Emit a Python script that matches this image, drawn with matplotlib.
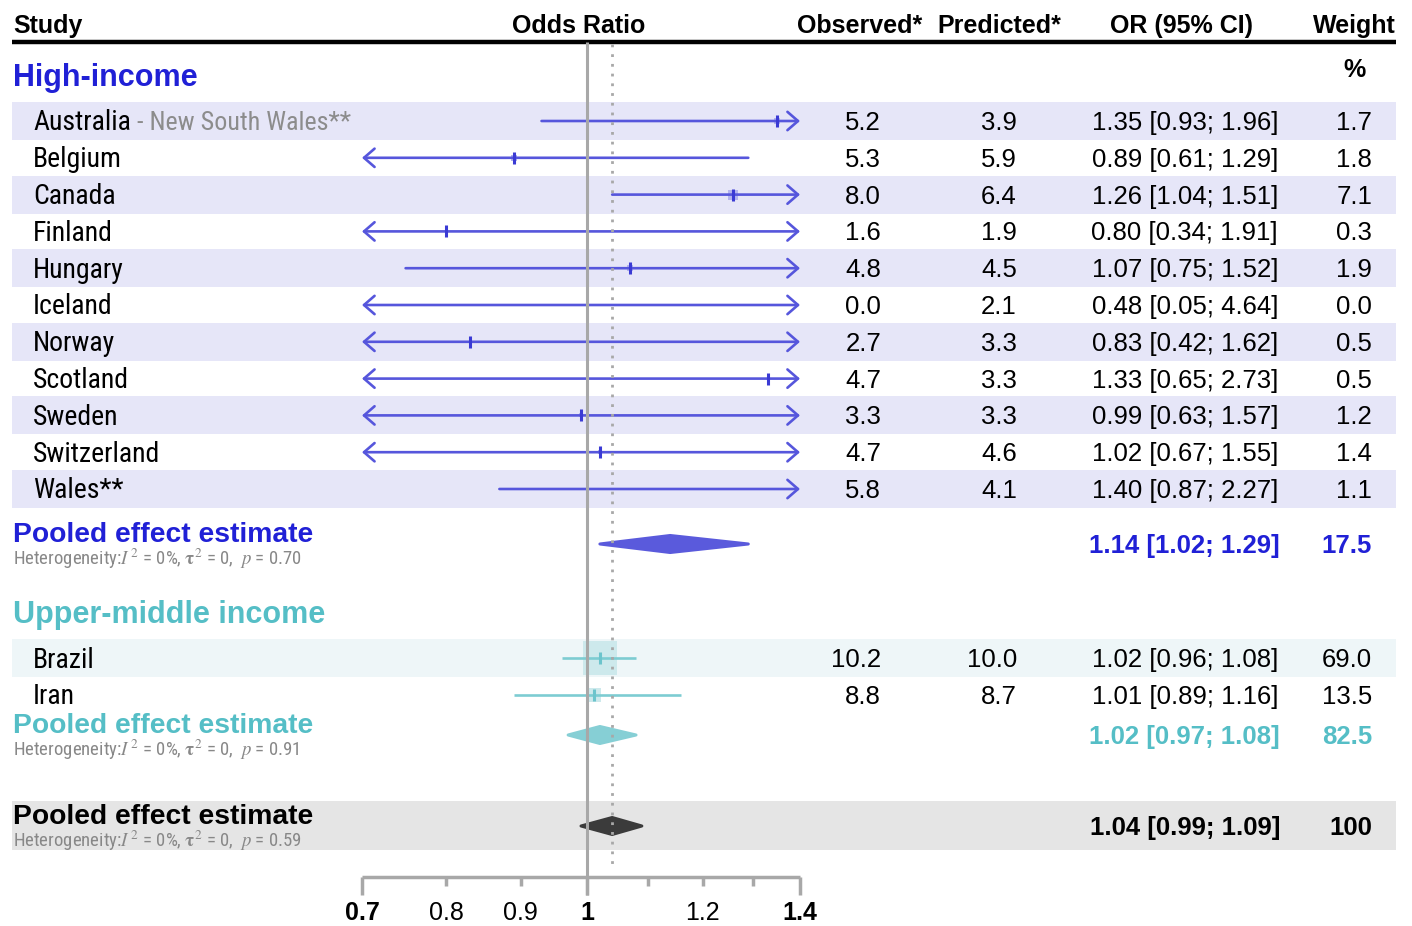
import numpy as np
import matplotlib
matplotlib.use("Agg")
import matplotlib.pyplot as plt
from matplotlib import transforms, font_manager
from matplotlib.patches import Rectangle, Polygon

# ---- data ----
hi_study = ["Australia", "Belgium", "Canada", "Finland", "Hungary", "Iceland",
            "Norway", "Scotland", "Sweden", "Switzerland", "Wales**"]
hi_obs = [5.2, 5.3, 8.0, 1.6, 4.8, 0.0, 2.7, 4.7, 3.3, 4.7, 5.8]
hi_pred = [3.9, 5.9, 6.4, 1.9, 4.5, 2.1, 3.3, 3.3, 3.3, 4.6, 4.1]
hi_or = [1.35, 0.89, 1.26, 0.80, 1.07, 0.48, 0.83, 1.33, 0.99, 1.02, 1.40]
hi_lo = [0.93, 0.61, 1.04, 0.34, 0.75, 0.05, 0.42, 0.65, 0.63, 0.67, 0.87]
hi_hi = [1.96, 1.29, 1.51, 1.91, 1.52, 4.64, 1.62, 2.73, 1.57, 1.55, 2.27]
hi_w = [1.7, 1.8, 7.1, 0.3, 1.9, 0.0, 0.5, 0.5, 1.2, 1.4, 1.1]
hi_pool = [1.14, 1.02, 1.29]
hi_pool_w = 17.5
hi_het = ["0%", "0", "0.70"]

um_study = ["Brazil", "Iran"]
um_obs = [10.2, 8.8]
um_pred = [10.0, 8.7]
um_or = [1.02, 1.01]
um_lo = [0.96, 0.89]
um_hi = [1.08, 1.16]
um_w = [69.0, 13.5]
um_pool = [1.02, 0.97, 1.08]
um_pool_w = 82.5
um_het = ["0%", "0", "0.91"]

all_pool = [1.04, 0.99, 1.09]
all_pool_w = 100
all_het = ["0%", "0", "0.59"]

tick_vals = [0.7, 0.8, 0.9, 1.0, 1.1, 1.2, 1.3, 1.4]
tick_labels = ["0.7", "0.8", "0.9", "1", "", "1.2", "", "1.4"]
tick_bold = [True, False, False, True, False, False, False, True]

XMIN, XMAX = 0.7, 1.4
W, H = 1412, 926

BLUE_T = "#2020D6"
BLUE_L = "#5656DC"
BLUE_K = "#3A3AD4"
BLUE_S = "#B4B4EE"
BLUE_D = "#5A5ADC"
BLUE_BAND = "#E6E6F8"
TEAL_T = "#55BEC6"
TEAL_L = "#7DCCD2"
TEAL_K = "#6CC4CC"
TEAL_S = "#CDE9EC"
TEAL_D = "#86CFD5"
TEAL_BAND = "#EEF6F8"

# pick a narrow face for the study names (like Arial Narrow)
_installed = {f.name for f in font_manager.fontManager.ttflist}
_narrow = [n for n in ["Liberation Sans Narrow", "Arial Narrow", "Roboto Condensed",
                       "Archivo Narrow", "PT Sans Narrow", "IBM Plex Sans Condensed"]
           if n in _installed]
NARROW = (_narrow[:1] or ["Liberation Sans"]) + ["DejaVu Sans"]


def fx(p):
    return p / W


def fmt_ci(e, lo, hi):
    return f"{e:.2f} [{lo:.2f}; {hi:.2f}]"


def draw_study(ax, y, est, lo, hi, w, line_c, tick_c, sq_c):
    left = max(lo, XMIN)
    right = min(hi, XMAX)
    if lo < XMIN or hi > XMAX:
        style = ("<" if lo < XMIN else "") + "-" + (">" if hi > XMAX else "")
        ax.annotate("", xy=(right, y), xytext=(left, y),
                    arrowprops=dict(arrowstyle=style + ",head_length=0.38,head_width=0.33",
                                    color=line_c, lw=1.9, shrinkA=0, shrinkB=0,
                                    mutation_scale=20), zorder=3)
    else:
        ax.plot([lo, hi], [y, y], color=line_c, lw=1.9, solid_capstyle="butt", zorder=3)
    if XMIN <= est < XMAX:
        if w > 0:
            side = 4.0 * np.sqrt(w) * 0.72
            ax.scatter([est], [y], marker="s", s=side ** 2, color=sq_c, lw=0, zorder=2)
        ax.plot([est], [y], marker="|", ms=8.5, mew=2.2, color=tick_c, zorder=4)


def draw_diamond(ax, y, est, lo, hi, color):
    h = 8.5
    verts = [(est, y - h), (hi, y), (est, y + h), (lo, y)]
    ax.add_patch(Polygon(verts, closed=True, facecolor=color, edgecolor=color,
                         lw=2.2, joinstyle="round", zorder=3))


def main():
    plt.rcParams["font.family"] = ["Liberation Sans", "DejaVu Sans"]
    plt.rcParams["mathtext.fontset"] = "stix"

    fig = plt.figure(figsize=(W / 100, H / 100), dpi=100)
    ax = fig.add_axes([362 / W, 0, 438 / W, 1])
    ax.set_xscale("log")
    ax.set_xlim(XMIN, XMAX)
    ax.set_ylim(H, 0)
    ax.axis("off")
    tr = transforms.blended_transform_factory(fig.transFigure, ax.transData)

    def txt(x, y, s, ha="left", **kw):
        return ax.text(fx(x), y + 2, s, transform=tr, ha=ha, va="center", **kw)

    def band(y0, y1, color):
        ax.add_patch(Rectangle((fx(12), y0), fx(1396 - 12), y1 - y0, transform=tr,
                               facecolor=color, edgecolor="none", zorder=0, clip_on=False))

    # header
    hdr = dict(fontsize=18, fontweight="bold", color="black")
    txt(13, 24, "Study", **hdr)
    txt(579, 24, "Odds Ratio", ha="center", **hdr)
    txt(860, 24, "Observed*", ha="center", **hdr)
    txt(999, 24, "Predicted*", ha="center", **hdr)
    txt(1181, 24, "OR (95% CI)", ha="center", **hdr)
    txt(1396, 24, "Weight", ha="right", **hdr)
    ax.plot([fx(12), fx(1396)], [42, 42], transform=tr, color="black", lw=3.2,
            clip_on=False, solid_capstyle="butt")
    txt(1355, 68, "%", ha="center", fontsize=18, fontweight="bold")

    def pooled_block(y, pool, pool_w, het, title_c, dia_c):
        txt(13, y - 11, "Pooled effect estimate", fontsize=20.3, fontweight="bold",
            color=title_c)
        het_s = (r"Heterogeneity:$I^{\,2}$ = " + het[0] + r", $\mathbf{\tau}^{2}$ = " + het[1]
                 + r",  $p$ = " + het[2])
        txt(13, y + 13, het_s, fontsize=13.5, family=NARROW, color="#888888")
        txt(1280, y, fmt_ci(*pool), ha="right", fontsize=18.5, fontweight="bold",
            color=title_c)
        w_s = f"{pool_w:.1f}" if pool_w < 100 else f"{pool_w:d}"
        txt(1372, y, w_s, ha="right", fontsize=18.5, fontweight="bold", color=title_c)
        draw_diamond(ax, y, pool[0], pool[1], pool[2], dia_c)

    def group(title, y_title, rows_y, study, obs, pred, est, lo, hi, w, pool, pool_w, het,
              y_pool, cols, band_c):
        title_c, line_c, tick_c, sq_c, dia_c = cols
        txt(13, y_title, title, fontsize=22, fontweight="bold", color=title_c)
        for i, y in enumerate(rows_y):
            if i % 2 == 0:
                band(y - 19, y + 19, band_c)
            name = txt(33, y, study[i], fontsize=20, family=NARROW)
            if study[i] == "Australia":
                ax.annotate(" - New South Wales**", xy=(1, 0), xycoords=name,
                            xytext=(0, 1.3), textcoords="offset points",
                            ha="left", va="bottom", fontsize=18.7, family=NARROW,
                            color="#8C8C8C")
            txt(881, y, f"{obs[i]:.1f}", ha="right", fontsize=18.5)
            txt(1017, y, f"{pred[i]:.1f}", ha="right", fontsize=18.5)
            txt(1278, y, fmt_ci(est[i], lo[i], hi[i]), ha="right", fontsize=18.5)
            txt(1372, y, f"{w[i]:.1f}", ha="right", fontsize=18.5)
            draw_study(ax, y, est[i], lo[i], hi[i], w[i], line_c, tick_c, sq_c)
        pooled_block(y_pool, pool, pool_w, het, title_c, dia_c)

    hi_y = [121 + 36.8 * i for i in range(len(hi_study))]
    group("High-income", 76, hi_y, hi_study, hi_obs, hi_pred, hi_or, hi_lo, hi_hi, hi_w,
          hi_pool, hi_pool_w, hi_het, 544, (BLUE_T, BLUE_L, BLUE_K, BLUE_S, BLUE_D),
          BLUE_BAND)

    um_y = [658, 695]
    group("Upper-middle income", 613, um_y, um_study, um_obs, um_pred, um_or, um_lo, um_hi,
          um_w, um_pool, um_pool_w, um_het, 735, (TEAL_T, TEAL_L, TEAL_K, TEAL_S, TEAL_D),
          TEAL_BAND)

    # overall
    band(801, 850, "#E5E5E5")
    pooled_block(826, all_pool, all_pool_w, all_het, "black", "#3B3B3B")

    # reference lines
    ax.plot([1.0, 1.0], [42, 895], color="#A8A8A8", lw=2.2, zorder=5, solid_capstyle="butt")
    ax.plot([all_pool[0], all_pool[0]], [44, 870], color="#A8A8A8", lw=2, ls=(0, (1, 2.5)),
            zorder=5)

    # x axis
    ax.plot([XMIN, XMAX], [877, 877], color="#A8A8A8", lw=2.5, solid_capstyle="butt",
            clip_on=False)
    for v, lab, b in zip(tick_vals, tick_labels, tick_bold):
        ax.plot([v, v], [877, 895 if b else 886], color="#A8A8A8", lw=2.5,
                solid_capstyle="butt", clip_on=False)
        if lab:
            ax.text(v, 913, lab, ha="center", va="center", fontsize=18,
                    fontweight="bold" if b else "normal")

    fig.savefig("out.png", dpi=100)


if __name__ == "__main__":
    main()
